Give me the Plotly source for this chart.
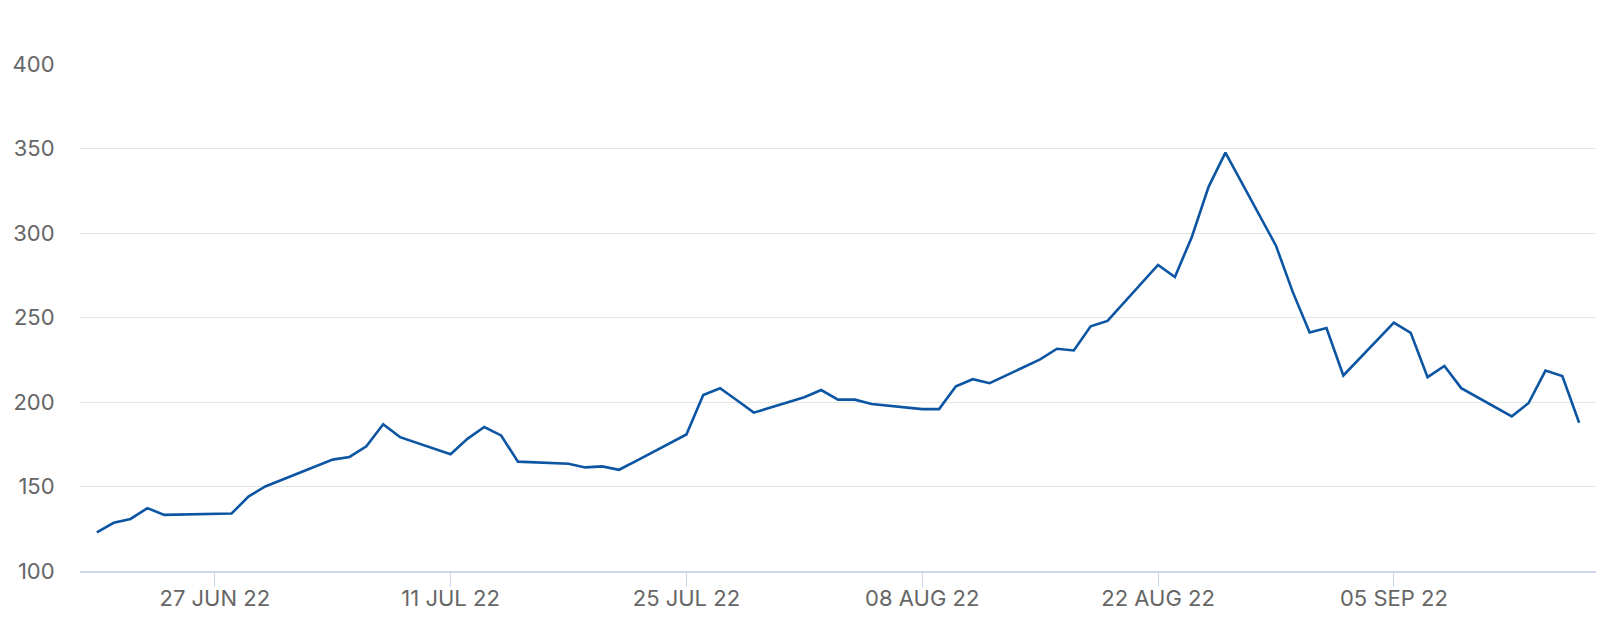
import plotly.graph_objects as go

dates = [
    "2022-06-20", "2022-06-21", "2022-06-22", "2022-06-23", "2022-06-24",
    "2022-06-27", "2022-06-28", "2022-06-29", "2022-06-30",
    "2022-07-04", "2022-07-05", "2022-07-06", "2022-07-07", "2022-07-08",
    "2022-07-11", "2022-07-12", "2022-07-13", "2022-07-14", "2022-07-15",
    "2022-07-18", "2022-07-19", "2022-07-20", "2022-07-21", "2022-07-22",
    "2022-07-25", "2022-07-26", "2022-07-27", "2022-07-28", "2022-07-29",
    "2022-08-01", "2022-08-02", "2022-08-03", "2022-08-04", "2022-08-05",
    "2022-08-08", "2022-08-09", "2022-08-10", "2022-08-11", "2022-08-12",
    "2022-08-15", "2022-08-16", "2022-08-17", "2022-08-18", "2022-08-19",
    "2022-08-22", "2022-08-23", "2022-08-24", "2022-08-25", "2022-08-26",
    "2022-08-29", "2022-08-30", "2022-08-31", "2022-09-01", "2022-09-02",
    "2022-09-05", "2022-09-06", "2022-09-07", "2022-09-08", "2022-09-09",
    "2022-09-12", "2022-09-13", "2022-09-14", "2022-09-15", "2022-09-16",
]

values = [
    122.9, 128.5, 130.8, 137.2, 133.2,
    133.8, 134.0, 144.0, 150.0,
    165.9, 167.5, 173.8, 186.8, 179.2,
    169.1, 178.2, 185.2, 180.2, 164.7,
    163.5, 161.3, 161.9, 159.9, 165.0,
    180.8, 204.1, 208.1, 201.0, 193.7,
    202.8, 207.1, 201.4, 201.4, 198.8,
    195.8, 195.8, 209.3, 213.5, 211.1,
    225.2, 231.5, 230.5, 244.8, 248.0,
    281.1, 274.0, 297.5, 327.3, 347.6,
    292.5, 265.0, 241.1, 243.8, 215.7,
    247.0, 240.9, 214.7, 221.3, 208.2,
    191.5, 199.4, 218.6, 215.3, 187.7,
]

x_tick_vals = ["2022-06-27", "2022-07-11", "2022-07-25", "2022-08-08", "2022-08-22", "2022-09-05"]
x_tick_text = ["27 JUN 22", "11 JUL 22", "25 JUL 22", "08 AUG 22", "22 AUG 22", "05 SEP 22"]
y_tick_vals = [100, 150, 200, 250, 300, 350, 400]

FONT = "Inter"
LABEL_COLOR = "#666666"

fig = go.Figure()
fig.add_trace(go.Scatter(
    x=dates, y=values, mode="lines",
    line=dict(color="#0b55a3", width=2.6),
    hoverinfo="x+y", showlegend=False,
))

fig.update_layout(
    width=1620, height=644,
    margin=dict(l=80, r=24, t=64, b=73),
    paper_bgcolor="white", plot_bgcolor="white",
    font=dict(family=FONT, size=22, color=LABEL_COLOR),
    xaxis=dict(
        range=["2022-06-19", "2022-09-17"],
        tickvals=x_tick_vals, ticktext=x_tick_text,
        showgrid=False, zeroline=False, automargin=False,
        showline=True, linecolor="#ccd6eb", linewidth=2,
        ticks="outside", ticklen=14, tickcolor="#ccd6eb", tickwidth=1,
        ticklabelstandoff=-7,
        tickfont=dict(family=FONT, size=22, color=LABEL_COLOR),
    ),
    yaxis=dict(
        range=[100, 400],
        tickvals=y_tick_vals,
        showgrid=True, gridcolor="#e6e6e6", gridwidth=1,
        zeroline=False, showline=False, automargin=False,
        ticks="outside", ticklen=20, tickcolor="rgba(0,0,0,0)",
        tickfont=dict(family=FONT, size=22, color=LABEL_COLOR),
    ),
)

fig.write_html(
    "out.html",
    config={"displayModeBar": False},
    post_script="document.body.style.margin='0';document.body.style.overflow='hidden';",
)
